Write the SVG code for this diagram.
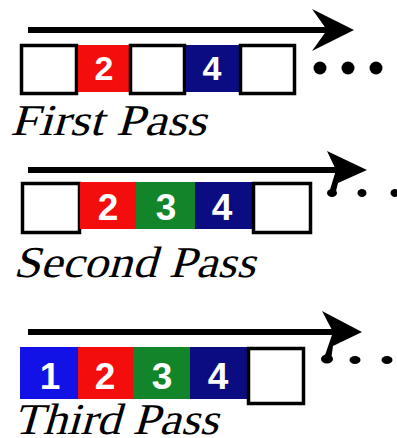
<svg xmlns="http://www.w3.org/2000/svg" width="397" height="438" viewBox="0 0 397 438">
<style>
.wb{fill:#fff;stroke:#000;stroke-width:3.5}
.red{fill:#f40d0d}
.grn{fill:#12852a}
.nav{fill:#0c0c82}
.blu{fill:#1212e6}
.num{font-family:"Liberation Sans",Arial,sans-serif;font-weight:bold;fill:#fff;text-anchor:middle}
.lbl{font-family:"Liberation Serif","Times New Roman",serif;font-size:44px;fill:#000}
.ln{stroke:#000;stroke-width:6;fill:none}
.hd{fill:#000}
</style>
<rect width="397" height="438" fill="#fff"/>
<g id="connectors">
  <line class="ln" x1="28" y1="30" x2="335" y2="30"/>
  <polygon class="hd" points="312,9 354,30 312,51 327,30"/>
  <line class="ln" x1="28" y1="170" x2="345" y2="170"/>
  <polygon class="hd" points="327,151 367,170 338,183 335,195 329,193 336,170"/>
  <line class="ln" x1="28" y1="332" x2="340" y2="332"/>
  <polygon class="hd" points="322,311 362,332 333,346 331,360 324,358 333,332"/>
</g>
<g id="first-pass">
  <rect class="wb" x="21.5" y="45.5" width="55" height="48"/>
  <rect class="red" x="78" y="45" width="51" height="47"/>
  <rect class="wb" x="130.5" y="45.5" width="54" height="48"/>
  <rect class="nav" x="186" y="45" width="53" height="47"/>
  <rect class="wb" x="240.5" y="45.5" width="54" height="48"/>
  <text class="num" x="104" y="80" font-size="34">2</text>
  <text class="num" x="212" y="80" font-size="34">4</text>
  <circle cx="320" cy="68" r="6.5"/>
  <circle cx="348" cy="68" r="6.5"/>
  <circle cx="376" cy="68" r="6.5"/>
  <text class="lbl" transform="translate(10,135) skewX(-16)" x="0" y="0" textLength="196" lengthAdjust="spacingAndGlyphs">First Pass</text>
</g>
<g id="second-pass">
  <rect class="wb" x="22.5" y="183.5" width="57" height="49"/>
  <rect class="red" x="80" y="182" width="56" height="47"/>
  <rect class="grn" x="136" y="182" width="59" height="47"/>
  <rect class="nav" x="195" y="182" width="57" height="47"/>
  <rect class="wb" x="253.5" y="183.5" width="57" height="49"/>
  <text class="num" x="108" y="220" font-size="37">2</text>
  <text class="num" x="166" y="220" font-size="37">3</text>
  <text class="num" x="222" y="220" font-size="37">4</text>
  <ellipse cx="332" cy="193" rx="5" ry="4"/>
  <ellipse cx="362" cy="193" rx="4.5" ry="4"/>
  <ellipse cx="395" cy="193" rx="4.5" ry="4"/>
  <text class="lbl" transform="translate(13,277) skewX(-16)" x="0" y="0" textLength="242" lengthAdjust="spacingAndGlyphs">Second Pass</text>
</g>
<g id="third-pass">
  <rect class="blu" x="20" y="347" width="58" height="52"/>
  <rect class="red" x="78" y="347" width="55" height="52"/>
  <rect class="grn" x="133" y="347" width="57" height="52"/>
  <rect class="nav" x="190" y="347" width="57" height="52"/>
  <rect class="wb" x="248.5" y="348.5" width="55" height="55"/>
  <text class="num" x="50" y="389" font-size="37">1</text>
  <text class="num" x="105" y="389" font-size="37">2</text>
  <text class="num" x="162" y="389" font-size="37">3</text>
  <text class="num" x="218" y="389" font-size="37">4</text>
  <ellipse cx="327" cy="359" rx="6" ry="4.5"/>
  <ellipse cx="355" cy="360" rx="5.5" ry="4"/>
  <ellipse cx="387" cy="360" rx="5.5" ry="4"/>
  <text class="lbl" transform="translate(13,434) skewX(-16)" x="0" y="0" textLength="205" lengthAdjust="spacingAndGlyphs">Third Pass</text>
</g>
</svg>
